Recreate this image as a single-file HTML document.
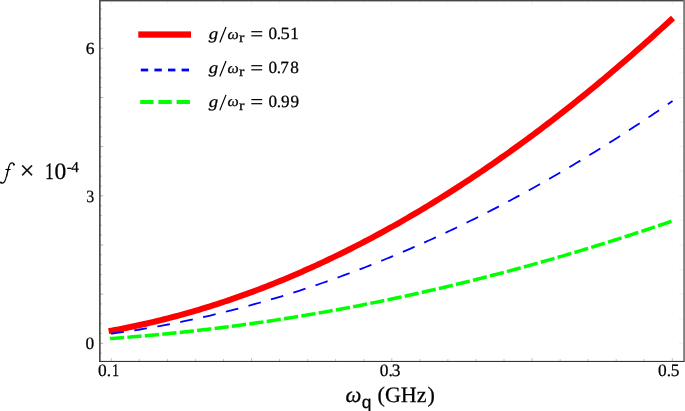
<!DOCTYPE html>
<html><head><meta charset="utf-8">
<style>
html,body{margin:0;padding:0;background:#fff;}
body{width:685px;height:411px;overflow:hidden;position:relative;}
svg{position:absolute;left:0;top:0;will-change:transform;}
text{font-family:"Liberation Serif",serif;fill:#000;stroke:#000;stroke-width:0.25px;text-rendering:geometricPrecision;}
</style></head>
<body>
<svg width="685" height="411" viewBox="0 0 685 411">
<rect x="0" y="0" width="685" height="411" fill="#fff"/>
<!-- ticks -->
<g id="ticks" stroke="#b0b0b0" stroke-width="1">
<line x1="683" y1="343.30" x2="679" y2="343.30" stroke="#efefef"/>
<line x1="683" y1="318.72" x2="679" y2="318.72" stroke="#efefef"/>
<line x1="683" y1="294.13" x2="679" y2="294.13" stroke="#efefef"/>
<line x1="683" y1="269.55" x2="679" y2="269.55" stroke="#efefef"/>
<line x1="683" y1="244.96" x2="679" y2="244.96" stroke="#efefef"/>
<line x1="683" y1="220.38" x2="679" y2="220.38" stroke="#efefef"/>
<line x1="683" y1="195.79" x2="679" y2="195.79" stroke="#efefef"/>
<line x1="683" y1="171.21" x2="679" y2="171.21" stroke="#efefef"/>
<line x1="683" y1="146.62" x2="679" y2="146.62" stroke="#efefef"/>
<line x1="683" y1="122.03" x2="679" y2="122.03" stroke="#efefef"/>
<line x1="683" y1="97.45" x2="679" y2="97.45" stroke="#efefef"/>
<line x1="683" y1="72.87" x2="679" y2="72.87" stroke="#efefef"/>
<line x1="683" y1="48.28" x2="679" y2="48.28" stroke="#efefef"/>
<line x1="683" y1="23.69" x2="679" y2="23.69" stroke="#efefef"/>
<line x1="100" y1="353.13" x2="101.80" y2="353.13"/>
<line x1="100" y1="343.30" x2="103.20" y2="343.30"/>
<line x1="100" y1="333.47" x2="101.80" y2="333.47"/>
<line x1="100" y1="323.63" x2="101.80" y2="323.63"/>
<line x1="100" y1="313.80" x2="101.80" y2="313.80"/>
<line x1="100" y1="303.96" x2="101.80" y2="303.96"/>
<line x1="100" y1="294.13" x2="103.20" y2="294.13"/>
<line x1="100" y1="284.30" x2="101.80" y2="284.30"/>
<line x1="100" y1="274.46" x2="101.80" y2="274.46"/>
<line x1="100" y1="264.63" x2="101.80" y2="264.63"/>
<line x1="100" y1="254.79" x2="101.80" y2="254.79"/>
<line x1="100" y1="244.96" x2="103.20" y2="244.96"/>
<line x1="100" y1="235.13" x2="101.80" y2="235.13"/>
<line x1="100" y1="225.29" x2="101.80" y2="225.29"/>
<line x1="100" y1="215.46" x2="101.80" y2="215.46"/>
<line x1="100" y1="205.62" x2="101.80" y2="205.62"/>
<line x1="100" y1="195.79" x2="103.20" y2="195.79"/>
<line x1="100" y1="185.96" x2="101.80" y2="185.96"/>
<line x1="100" y1="176.12" x2="101.80" y2="176.12"/>
<line x1="100" y1="166.29" x2="101.80" y2="166.29"/>
<line x1="100" y1="156.45" x2="101.80" y2="156.45"/>
<line x1="100" y1="146.62" x2="103.20" y2="146.62"/>
<line x1="100" y1="136.79" x2="101.80" y2="136.79"/>
<line x1="100" y1="126.95" x2="101.80" y2="126.95"/>
<line x1="100" y1="117.12" x2="101.80" y2="117.12"/>
<line x1="100" y1="107.28" x2="101.80" y2="107.28"/>
<line x1="100" y1="97.45" x2="103.20" y2="97.45"/>
<line x1="100" y1="87.62" x2="101.80" y2="87.62"/>
<line x1="100" y1="77.78" x2="101.80" y2="77.78"/>
<line x1="100" y1="67.95" x2="101.80" y2="67.95"/>
<line x1="100" y1="58.11" x2="101.80" y2="58.11"/>
<line x1="100" y1="48.28" x2="103.20" y2="48.28"/>
<line x1="100" y1="38.45" x2="101.80" y2="38.45"/>
<line x1="100" y1="28.61" x2="101.80" y2="28.61"/>
<line x1="100" y1="18.78" x2="101.80" y2="18.78"/>
<line x1="100" y1="8.94" x2="101.80" y2="8.94"/>
<line x1="111.30" y1="361" x2="111.30" y2="358.00" stroke="#c4c4c4"/>
<line x1="111.30" y1="1.5" x2="111.30" y2="4.50" stroke="#eee"/>
<line x1="139.35" y1="361" x2="139.35" y2="359.00" stroke="#c4c4c4"/>
<line x1="139.35" y1="1.5" x2="139.35" y2="3.50" stroke="#eee"/>
<line x1="167.40" y1="361" x2="167.40" y2="359.00" stroke="#c4c4c4"/>
<line x1="167.40" y1="1.5" x2="167.40" y2="3.50" stroke="#eee"/>
<line x1="195.45" y1="361" x2="195.45" y2="359.00" stroke="#c4c4c4"/>
<line x1="195.45" y1="1.5" x2="195.45" y2="3.50" stroke="#eee"/>
<line x1="223.50" y1="361" x2="223.50" y2="359.00" stroke="#c4c4c4"/>
<line x1="223.50" y1="1.5" x2="223.50" y2="3.50" stroke="#eee"/>
<line x1="251.55" y1="361" x2="251.55" y2="358.00" stroke="#c4c4c4"/>
<line x1="251.55" y1="1.5" x2="251.55" y2="4.50" stroke="#eee"/>
<line x1="279.60" y1="361" x2="279.60" y2="359.00" stroke="#c4c4c4"/>
<line x1="279.60" y1="1.5" x2="279.60" y2="3.50" stroke="#eee"/>
<line x1="307.65" y1="361" x2="307.65" y2="359.00" stroke="#c4c4c4"/>
<line x1="307.65" y1="1.5" x2="307.65" y2="3.50" stroke="#eee"/>
<line x1="335.70" y1="361" x2="335.70" y2="359.00" stroke="#c4c4c4"/>
<line x1="335.70" y1="1.5" x2="335.70" y2="3.50" stroke="#eee"/>
<line x1="363.75" y1="361" x2="363.75" y2="359.00" stroke="#c4c4c4"/>
<line x1="363.75" y1="1.5" x2="363.75" y2="3.50" stroke="#eee"/>
<line x1="391.80" y1="361" x2="391.80" y2="358.00" stroke="#c4c4c4"/>
<line x1="391.80" y1="1.5" x2="391.80" y2="4.50" stroke="#eee"/>
<line x1="419.85" y1="361" x2="419.85" y2="359.00" stroke="#c4c4c4"/>
<line x1="419.85" y1="1.5" x2="419.85" y2="3.50" stroke="#eee"/>
<line x1="447.90" y1="361" x2="447.90" y2="359.00" stroke="#c4c4c4"/>
<line x1="447.90" y1="1.5" x2="447.90" y2="3.50" stroke="#eee"/>
<line x1="475.95" y1="361" x2="475.95" y2="359.00" stroke="#c4c4c4"/>
<line x1="475.95" y1="1.5" x2="475.95" y2="3.50" stroke="#eee"/>
<line x1="504.00" y1="361" x2="504.00" y2="359.00" stroke="#c4c4c4"/>
<line x1="504.00" y1="1.5" x2="504.00" y2="3.50" stroke="#eee"/>
<line x1="532.05" y1="361" x2="532.05" y2="358.00" stroke="#c4c4c4"/>
<line x1="532.05" y1="1.5" x2="532.05" y2="4.50" stroke="#eee"/>
<line x1="560.10" y1="361" x2="560.10" y2="359.00" stroke="#c4c4c4"/>
<line x1="560.10" y1="1.5" x2="560.10" y2="3.50" stroke="#eee"/>
<line x1="588.15" y1="361" x2="588.15" y2="359.00" stroke="#c4c4c4"/>
<line x1="588.15" y1="1.5" x2="588.15" y2="3.50" stroke="#eee"/>
<line x1="616.20" y1="361" x2="616.20" y2="359.00" stroke="#c4c4c4"/>
<line x1="616.20" y1="1.5" x2="616.20" y2="3.50" stroke="#eee"/>
<line x1="644.25" y1="361" x2="644.25" y2="359.00" stroke="#c4c4c4"/>
<line x1="644.25" y1="1.5" x2="644.25" y2="3.50" stroke="#eee"/>
<line x1="672.30" y1="361" x2="672.30" y2="358.00" stroke="#c4c4c4"/>
<line x1="672.30" y1="1.5" x2="672.30" y2="4.50" stroke="#eee"/>
</g>
<!-- frame -->
<rect x="99" y="0" width="585" height="1.4" fill="#454545"/>
<rect x="683.2" y="0" width="1.8" height="362" fill="#7c7c7c"/>
<rect x="99" y="0" width="1.7" height="362" fill="#4d4d4d"/>
<rect x="99" y="360.9" width="585" height="1.1" fill="#333"/>
<!-- curves -->
<path d="M111.60,330.63 L115.12,329.99 L118.63,329.33 L122.15,328.66 L125.67,327.97 L129.18,327.26 L132.70,326.54 L136.22,325.79 L139.74,325.04 L143.25,324.26 L146.77,323.47 L150.29,322.66 L153.80,321.83 L157.32,320.99 L160.84,320.13 L164.35,319.25 L167.87,318.36 L171.39,317.45 L174.91,316.52 L178.42,315.57 L181.94,314.61 L185.46,313.63 L188.97,312.64 L192.49,311.63 L196.01,310.60 L199.52,309.55 L203.04,308.49 L206.56,307.41 L210.08,306.31 L213.59,305.20 L217.11,304.07 L220.63,302.92 L224.14,301.75 L227.66,300.57 L231.18,299.37 L234.69,298.16 L238.21,296.93 L241.73,295.68 L245.25,294.42 L248.76,293.13 L252.28,291.84 L255.80,290.52 L259.31,289.19 L262.83,287.84 L266.35,286.47 L269.86,285.09 L273.38,283.69 L276.90,282.28 L280.42,280.85 L283.93,279.40 L287.45,277.93 L290.97,276.45 L294.48,274.95 L298.00,273.44 L301.52,271.90 L305.03,270.35 L308.55,268.79 L312.07,267.21 L315.58,265.61 L319.10,263.99 L322.62,262.36 L326.14,260.71 L329.65,259.05 L333.17,257.37 L336.69,255.67 L340.20,253.95 L343.72,252.22 L347.24,250.47 L350.75,248.71 L354.27,246.93 L357.79,245.13 L361.31,243.32 L364.82,241.49 L368.34,239.64 L371.86,237.78 L375.37,235.90 L378.89,234.00 L382.41,232.09 L385.92,230.16 L389.44,228.21 L392.96,226.25 L396.48,224.27 L399.99,222.28 L403.51,220.26 L407.03,218.24 L410.54,216.19 L414.06,214.13 L417.58,212.05 L421.09,209.96 L424.61,207.85 L428.13,205.73 L431.65,203.58 L435.16,201.42 L438.68,199.25 L442.20,197.06 L445.71,194.85 L449.23,192.63 L452.75,190.38 L456.26,188.13 L459.78,185.86 L463.30,183.57 L466.82,181.26 L470.33,178.94 L473.85,176.60 L477.37,174.25 L480.88,171.88 L484.40,169.49 L487.92,167.09 L491.43,164.67 L494.95,162.23 L498.47,159.78 L501.98,157.31 L505.50,154.83 L509.02,152.33 L512.54,149.81 L516.05,147.28 L519.57,144.73 L523.09,142.16 L526.60,139.58 L530.12,136.99 L533.64,134.37 L537.15,131.74 L540.67,129.10 L544.19,126.44 L547.71,123.76 L551.22,121.06 L554.74,118.35 L558.26,115.63 L561.77,112.89 L565.29,110.13 L568.81,107.35 L572.32,104.56 L575.84,101.76 L579.36,98.93 L582.88,96.10 L586.39,93.24 L589.91,90.37 L593.43,87.49 L596.94,84.58 L600.46,81.67 L603.98,78.73 L607.49,75.78 L611.01,72.81 L614.53,69.83 L618.05,66.83 L621.56,63.82 L625.08,60.79 L628.60,57.75 L632.11,54.68 L635.63,51.61 L639.15,48.51 L642.66,45.40 L646.18,42.28 L649.70,39.14 L653.22,35.98 L656.73,32.81 L660.25,29.62 L663.77,26.41 L667.28,23.19 L670.80,19.96" fill="none" stroke="#ff0000" stroke-width="6" stroke-linejoin="round" stroke-linecap="square"/>
<path d="M111.60,333.68 L115.12,333.20 L118.65,332.71 L122.17,332.20 L125.69,331.69 L129.22,331.16 L132.74,330.61 L136.26,330.06 L139.79,329.49 L143.31,328.91 L146.83,328.32 L150.36,327.71 L153.88,327.09 L157.40,326.46 L160.93,325.82 L164.45,325.16 L167.97,324.50 L171.50,323.82 L175.02,323.12 L178.54,322.42 L182.07,321.70 L185.59,320.97 L189.11,320.23 L192.64,319.47 L196.16,318.70 L199.68,317.92 L203.21,317.13 L206.73,316.32 L210.25,315.51 L213.77,314.68 L217.30,313.83 L220.82,312.98 L224.34,312.11 L227.87,311.23 L231.39,310.34 L234.91,309.43 L238.44,308.52 L241.96,307.59 L245.48,306.64 L249.01,305.69 L252.53,304.72 L256.05,303.74 L259.58,302.75 L263.10,301.75 L266.62,300.73 L270.15,299.70 L273.67,298.66 L277.19,297.60 L280.72,296.54 L284.24,295.46 L287.76,294.37 L291.29,293.26 L294.81,292.15 L298.33,291.02 L301.86,289.88 L305.38,288.72 L308.90,287.56 L312.43,286.38 L315.95,285.19 L319.47,283.98 L323.00,282.77 L326.52,281.54 L330.04,280.30 L333.57,279.05 L337.09,277.78 L340.61,276.51 L344.14,275.22 L347.66,273.91 L351.18,272.60 L354.71,271.27 L358.23,269.93 L361.75,268.58 L365.28,267.22 L368.80,265.84 L372.32,264.45 L375.85,263.05 L379.37,261.64 L382.89,260.21 L386.42,258.77 L389.94,257.32 L393.46,255.86 L396.98,254.39 L400.51,252.90 L404.03,251.40 L407.55,249.89 L411.08,248.36 L414.60,246.82 L418.12,245.28 L421.65,243.71 L425.17,242.14 L428.69,240.55 L432.22,238.96 L435.74,237.35 L439.26,235.72 L442.79,234.09 L446.31,232.44 L449.83,230.78 L453.36,229.11 L456.88,227.42 L460.40,225.73 L463.93,224.02 L467.45,222.30 L470.97,220.56 L474.50,218.82 L478.02,217.06 L481.54,215.29 L485.07,213.50 L488.59,211.71 L492.11,209.90 L495.64,208.08 L499.16,206.25 L502.68,204.41 L506.21,202.55 L509.73,200.68 L513.25,198.80 L516.78,196.91 L520.30,195.00 L523.82,193.08 L527.35,191.15 L530.87,189.21 L534.39,187.26 L537.92,185.29 L541.44,183.31 L544.96,181.32 L548.49,179.32 L552.01,177.30 L555.53,175.27 L559.06,173.23 L562.58,171.18 L566.10,169.12 L569.63,167.04 L573.15,164.95 L576.67,162.85 L580.19,160.74 L583.72,158.61 L587.24,156.47 L590.76,154.32 L594.29,152.16 L597.81,149.99 L601.33,147.80 L604.86,145.60 L608.38,143.39 L611.90,141.17 L615.43,138.93 L618.95,136.69 L622.47,134.43 L626.00,132.15 L629.52,129.87 L633.04,127.57 L636.57,125.27 L640.09,122.95 L643.61,120.61 L647.14,118.27 L650.66,115.91 L654.18,113.54 L657.71,111.16 L661.23,108.77 L664.75,106.36 L668.28,103.94 L671.80,101.51" fill="none" stroke="#0000ff" stroke-width="1.8" stroke-linecap="square" stroke-dasharray="10.99 12.384" stroke-dashoffset="-0.44"/>
<path d="M111.60,338.45 L115.11,338.20 L118.63,337.94 L122.14,337.68 L125.66,337.40 L129.17,337.13 L132.68,336.84 L136.20,336.55 L139.71,336.25 L143.22,335.95 L146.74,335.64 L150.25,335.33 L153.77,335.01 L157.28,334.68 L160.79,334.35 L164.31,334.01 L167.82,333.66 L171.34,333.31 L174.85,332.95 L178.36,332.59 L181.88,332.22 L185.39,331.84 L188.90,331.46 L192.42,331.07 L195.93,330.67 L199.45,330.27 L202.96,329.86 L206.47,329.45 L209.99,329.03 L213.50,328.60 L217.02,328.17 L220.53,327.73 L224.04,327.29 L227.56,326.84 L231.07,326.38 L234.58,325.92 L238.10,325.45 L241.61,324.97 L245.13,324.49 L248.64,324.01 L252.15,323.51 L255.67,323.01 L259.18,322.51 L262.69,322.00 L266.21,321.48 L269.72,320.95 L273.24,320.42 L276.75,319.89 L280.26,319.34 L283.78,318.80 L287.29,318.24 L290.81,317.68 L294.32,317.11 L297.83,316.54 L301.35,315.96 L304.86,315.38 L308.37,314.79 L311.89,314.19 L315.40,313.59 L318.92,312.98 L322.43,312.36 L325.94,311.74 L329.46,311.11 L332.97,310.48 L336.49,309.84 L340.00,309.19 L343.51,308.54 L347.03,307.88 L350.54,307.22 L354.05,306.55 L357.57,305.87 L361.08,305.19 L364.60,304.50 L368.11,303.81 L371.62,303.11 L375.14,302.40 L378.65,301.69 L382.17,300.97 L385.68,300.24 L389.19,299.51 L392.71,298.78 L396.22,298.03 L399.73,297.28 L403.25,296.53 L406.76,295.77 L410.28,295.00 L413.79,294.23 L417.30,293.45 L420.82,292.66 L424.33,291.87 L427.85,291.07 L431.36,290.27 L434.87,289.46 L438.39,288.65 L441.90,287.83 L445.41,287.00 L448.93,286.17 L452.44,285.33 L455.96,284.48 L459.47,283.63 L462.98,282.77 L466.50,281.91 L470.01,281.04 L473.53,280.16 L477.04,279.28 L480.55,278.40 L484.07,277.50 L487.58,276.60 L491.09,275.70 L494.61,274.79 L498.12,273.87 L501.64,272.95 L505.15,272.02 L508.66,271.08 L512.18,270.14 L515.69,269.19 L519.21,268.24 L522.72,267.28 L526.23,266.32 L529.75,265.35 L533.26,264.37 L536.77,263.39 L540.29,262.40 L543.80,261.40 L547.32,260.40 L550.83,259.39 L554.34,258.38 L557.86,257.36 L561.37,256.34 L564.88,255.31 L568.40,254.27 L571.91,253.23 L575.43,252.18 L578.94,251.12 L582.45,250.06 L585.97,249.00 L589.48,247.93 L593.00,246.85 L596.51,245.76 L600.02,244.67 L603.54,243.58 L607.05,242.48 L610.56,241.37 L614.08,240.25 L617.59,239.13 L621.11,238.01 L624.62,236.88 L628.13,235.74 L631.65,234.60 L635.16,233.45 L638.68,232.29 L642.19,231.13 L645.70,229.97 L649.22,228.79 L652.73,227.61 L656.24,226.43 L659.76,225.24 L663.27,224.04 L666.79,222.84 L670.30,221.63" fill="none" stroke="#00ff00" stroke-width="3.5" stroke-linecap="square" stroke-dasharray="10.76 6.776" stroke-dashoffset="0"/>
<!-- legend -->
<rect x="138.3" y="31.4" width="52.7" height="6.3" fill="#ff0000"/>
<g fill="#0000ff">
<rect x="140.8" y="68.6" width="7.4" height="2.8"/>
<rect x="154.4" y="68.6" width="7.4" height="2.8"/>
<rect x="168" y="68.6" width="7.4" height="2.8"/>
<rect x="181.6" y="68.6" width="7.4" height="2.8"/>
</g>
<g fill="#00ff00">
<rect x="140.2" y="100" width="13.3" height="4"/>
<rect x="158.4" y="100" width="13.3" height="4"/>
<rect x="176.6" y="100" width="13.3" height="4"/>
</g>
<g fill="#000">
<text transform="translate(208.69,39.20) scale(1.16,1)" style="font-family:'Liberation Serif';font-style:italic;font-size:16.3px">g</text>
<line x1="219.8" y1="42.5" x2="226.0" y2="27.0" stroke="#000" stroke-width="1.2"/>
<text transform="translate(227.57,38.50) scale(1.07,1)" style="font-family:'Liberation Serif';font-style:italic;font-size:14.8px">ω</text>
<text transform="translate(239.08,42.20) scale(1.15,1)" style="font-family:'Liberation Serif';font-size:14.0px">r</text>
<rect x="251.3" y="31.1" width="10.9" height="1.2"/>
<rect x="251.3" y="35.2" width="10.9" height="1.2"/>
<text x="268.54" y="38.75" style="font-family:'Liberation Serif';font-size:17.2px">0</text>
<text x="276.87" y="38.75" style="font-family:'Liberation Serif';font-size:17.2px">.</text>
<text transform="translate(280.52,38.75) scale(1.08,1)" style="font-family:'Liberation Serif';font-size:17.2px">5</text>
<text x="290.29" y="38.75" style="font-family:'Liberation Serif';font-size:17.2px">1</text>
<text transform="translate(208.69,73.20) scale(1.16,1)" style="font-family:'Liberation Serif';font-style:italic;font-size:16.3px">g</text>
<line x1="219.8" y1="76.5" x2="226.0" y2="61.0" stroke="#000" stroke-width="1.2"/>
<text transform="translate(227.57,72.50) scale(1.07,1)" style="font-family:'Liberation Serif';font-style:italic;font-size:14.8px">ω</text>
<text transform="translate(239.08,76.20) scale(1.15,1)" style="font-family:'Liberation Serif';font-size:14.0px">r</text>
<rect x="251.3" y="65.1" width="10.9" height="1.2"/>
<rect x="251.3" y="69.2" width="10.9" height="1.2"/>
<text x="268.54" y="72.75" style="font-family:'Liberation Serif';font-size:17.2px">0</text>
<text x="276.87" y="72.75" style="font-family:'Liberation Serif';font-size:17.2px">.</text>
<text x="280.17" y="72.75" style="font-family:'Liberation Serif';font-size:17.2px">7</text>
<text x="290.34" y="72.75" style="font-family:'Liberation Serif';font-size:17.2px">8</text>
<text transform="translate(208.69,107.10) scale(1.16,1)" style="font-family:'Liberation Serif';font-style:italic;font-size:16.3px">g</text>
<line x1="219.8" y1="110.4" x2="226.0" y2="94.9" stroke="#000" stroke-width="1.2"/>
<text transform="translate(227.57,106.40) scale(1.07,1)" style="font-family:'Liberation Serif';font-style:italic;font-size:14.8px">ω</text>
<text transform="translate(239.08,110.10) scale(1.15,1)" style="font-family:'Liberation Serif';font-size:14.0px">r</text>
<rect x="251.3" y="99.0" width="10.9" height="1.2"/>
<rect x="251.3" y="103.10000000000001" width="10.9" height="1.2"/>
<text x="268.54" y="106.65" style="font-family:'Liberation Serif';font-size:17.2px">0</text>
<text x="276.87" y="106.65" style="font-family:'Liberation Serif';font-size:17.2px">.</text>
<text x="280.95" y="106.65" style="font-family:'Liberation Serif';font-size:17.2px">9</text>
<text x="290.45" y="106.65" style="font-family:'Liberation Serif';font-size:17.2px">9</text>
<text transform="translate(85.85,53.75) scale(1.03,1)" style="font-family:'Liberation Serif';font-size:17.0px">6</text>
<text transform="translate(86.13,202.00) scale(0.93,1)" style="font-family:'Liberation Serif';font-size:17.2px">3</text>
<text x="85.44" y="348.50" style="font-family:'Liberation Serif';font-size:17.4px">0</text>
<text x="98.04" y="376.30" style="font-family:'Liberation Serif';font-size:17.4px">0</text>
<text x="106.65" y="376.30" style="font-family:'Liberation Serif';font-size:17.4px">.</text>
<text transform="translate(112.05,376.40) scale(0.8,1)" style="font-family:'Liberation Serif';font-size:17.8px">1</text>
<text x="379.74" y="376.30" style="font-family:'Liberation Serif';font-size:17.4px">0</text>
<text x="388.45" y="376.30" style="font-family:'Liberation Serif';font-size:17.4px">.</text>
<text x="391.87" y="376.30" style="font-family:'Liberation Serif';font-size:17.4px">3</text>
<text x="658.04" y="376.30" style="font-family:'Liberation Serif';font-size:17.4px">0</text>
<text x="666.65" y="376.30" style="font-family:'Liberation Serif';font-size:17.4px">.</text>
<text x="670.79" y="376.30" style="font-family:'Liberation Serif';font-size:17.4px">5</text>
<text x="345.55" y="401.90" style="font-family:'Liberation Serif';font-style:italic;font-size:22.5px">ω</text>
<text x="361.67" y="407.50" style="font-family:'Liberation Sans';font-size:17.3px" stroke="#000" stroke-width="0.5">q</text>
<text x="377.6" y="401.8" style="font-family:'Liberation Serif';font-size:22px">(GHz</text>
<text x="427.49" y="401.80" style="font-family:'Liberation Serif';font-size:22px">)</text>
<path d="M13.7,164.3 C13.5,162.6 11.3,162.5 10.1,163.9 C9.1,165.1 8.5,167.6 7.8,170.6 C7.0,174.2 6.1,178.3 4.9,180.9 C4.0,182.8 2.2,183.7 0.4,182.6" fill="none" stroke="#000" stroke-width="1.15"/><path d="M8.9,166.5 C8.3,169.5 7.5,173.5 6.6,177" fill="none" stroke="#000" stroke-width="0.8"/><circle cx="13.9" cy="164.6" r="1.05"/><circle cx="0.9" cy="182.4" r="0.9"/><line x1="5.4" y1="169.5" x2="10.6" y2="169.5" stroke="#000" stroke-width="1.1"/>
<text x="19.84" y="179.05" style="font-family:'Liberation Serif';font-size:26px">×</text>
<text transform="translate(45.05,179.30) scale(0.75,1)" style="font-family:'Liberation Serif';font-size:23.5px">1</text>
<text x="54.40" y="179.30" style="font-family:'Liberation Serif';font-size:23.5px">0</text>
<text x="66.64" y="172.20" style="font-family:'Liberation Serif';font-size:15.2px">-</text>
<text x="71.30" y="172.20" style="font-family:'Liberation Serif';font-size:15.2px">4</text>
</g>
</svg>
</body></html>
